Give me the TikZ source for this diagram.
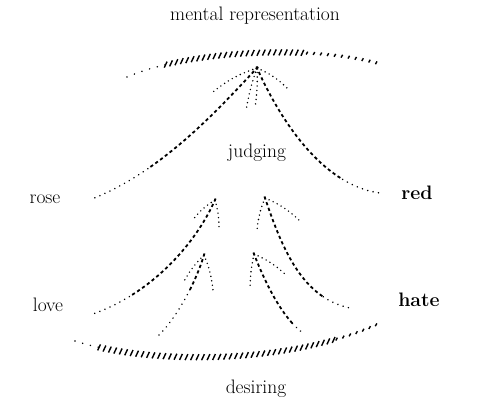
\documentclass[tikz,border=0pt]{standalone}
\usepackage{tikz}
\usetikzlibrary{decorations.markings}

\begin{document}
\begin{tikzpicture}[x=1pt, y=-1pt,
  lbl/.style={font=\fontsize{19.5}{22}\selectfont},
  bold/.style={lbl, font=\fontsize{19.5}{22}\selectfont\bfseries},
  dots/.style={line width=1.6pt, line cap=round, dash pattern=on 0pt off 4.5pt},
  strokes/.style={decorate, decoration={markings,
    mark=between positions 0 and #1 step 6pt with {\draw[line width=1.8pt] (-1.6pt,0) -- (1.6pt,0);},
    mark=between positions #1 and 1 step 5.5pt with {\fill (0,0) circle (0.85pt);}}},
  hatch/.style args={#1 to #2}{decorate, decoration={markings,
    mark=between positions 0 and #1 step 8pt with {\fill (0,0) circle (0.85pt);},
    mark=between positions #1 and #2 step 5.5pt with {\pgftransformresetnontranslations
      \draw[line width=1.4pt] (-1.4pt,-3pt) -- (1.4pt,3pt);},
    mark=between positions #2 and 1 step 7pt with {\pgftransformresetnontranslations
      \draw[line width=1.4pt] (-0.8pt,-1.4pt) -- (0.8pt,1.4pt);}}}]
  \useasboundingbox (0,0) rectangle (499,401);

  % labels
  \node[lbl] (mental) at (255,16) {mental representation};
  \node[lbl] (judging) at (257,153) {judging};
  \node[lbl] (rose) at (45,199) {rose};
  \node[bold] (red) at (417,193) {red};
  \node[lbl] (love) at (48,305) {love};
  \node[bold] (hate) at (419,300) {hate};
  \node[lbl] (desiring) at (256,389) {desiring};

  % ends of the strokes
  \coordinate (topL) at (127,77);
  \coordinate (topR) at (377,63);
  \coordinate (botL) at (75,341);
  \coordinate (botR) at (380,323);
  \coordinate (apexT) at (257,68);
  \coordinate (roseEnd) at (92,199);
  \coordinate (redEnd) at (380,193);
  \coordinate (apexB) at (215,200);
  \coordinate (loveEnd) at (90,315);
  \coordinate (apexC) at (204,255);
  \coordinate (cEnd) at (158,336);
  \coordinate (apexD) at (265,198);
  \coordinate (dEnd) at (350,308);
  \coordinate (apexE) at (254,254);
  \coordinate (eEnd) at (303,333);

  % the two arcs
  \path[hatch=0.16 to 0.72] (topL) .. controls (190,50) and (310,45) .. (topR);
  \path[hatch=0.08 to 0.85] (botL) .. controls (150,365) and (290,365) .. (botR);

  % upper fan
  \path[strokes=0.7] (apexT) .. controls (222,105) and (165,170) .. (roseEnd);
  \path[strokes=0.78] (apexT) .. controls (278,115) and (320,185) .. (redEnd);
  \draw[dots] (apexT) to[bend right=10] (213,92);
  \draw[dots] (apexT) to[bend right=5] (246,111);
  \draw[dots] (apexT) to[bend left=5] (255,108);
  \draw[dots] (apexT) to[bend left=10] (287,88);

  % lower left fans
  \path[strokes=0.75] (apexB) .. controls (195,245) and (150,295) .. (loveEnd);
  \draw[dots] (apexB) to[bend right=10] (192,221);
  \draw[dots] (apexB) to[bend left=8] (219,230);
  \path[strokes=0.4] (apexC) .. controls (195,285) and (175,320) .. (cEnd);
  \draw[dots] (apexC) to[bend right=8] (183,283);
  \draw[dots] (apexC) to[bend left=8] (213,290);

  % lower right fans
  \path[strokes=0.8] (apexD) .. controls (282,248) and (302,298) .. (dEnd);
  \draw[dots] (apexD) to[bend right=8] (257,230);
  \draw[dots] (apexD) to[bend left=10] (300,221);
  \path[strokes=0.85] (apexE) .. controls (268,290) and (285,320) .. (eEnd);
  \draw[dots] (apexE) to[bend right=5] (250,288);
  \draw[dots] (apexE) to[bend left=10] (287,276);
\end{tikzpicture}
\end{document}
